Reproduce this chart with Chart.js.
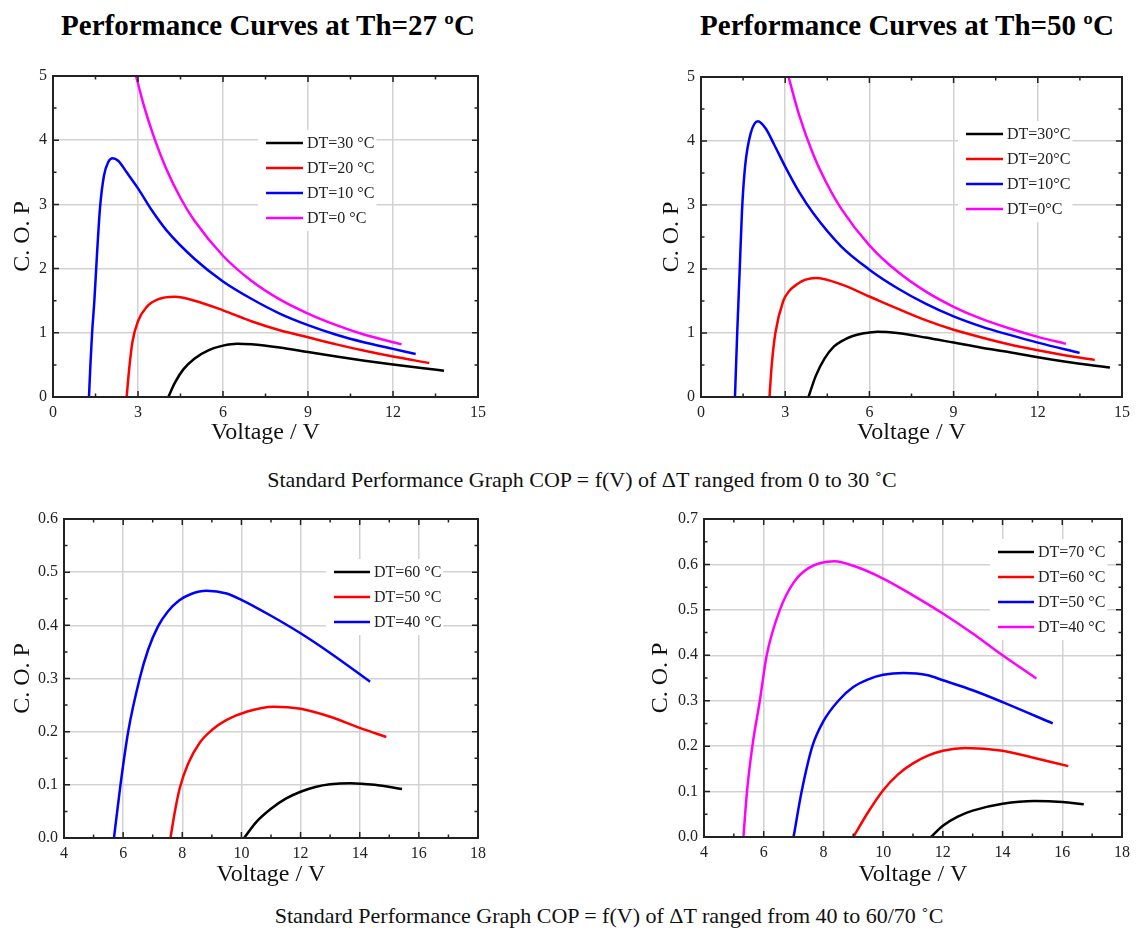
<!DOCTYPE html>
<html>
<head>
<meta charset="utf-8">
<script src="https://cdn.jsdelivr.net/npm/chart.js@4.4.1/dist/chart.umd.min.js"></script>
<style>
  body { margin: 0; background: #fff; width: 1136px; height: 932px; position: relative; overflow: hidden; font-family: "Liberation Serif", serif; }
  canvas { position: absolute; }
  .title { position: absolute; font-weight: bold; font-size: 29px; line-height: 1; white-space: nowrap; transform: translateX(-50%); color: #000; }
  .caption { position: absolute; font-size: 22px; line-height: 1; white-space: nowrap; transform: translateX(-50%); color: #111; }
</style>
</head>
<body>
<div class="title" style="left:268px; top:11px">Performance Curves at Th=27 ºC</div>
<div class="title" style="left:907px; top:11px">Performance Curves at Th=50 ºC</div>
<div class="caption" style="left:582px; top:469px">Standard Performance Graph COP = f(V) of ΔT ranged from 0 to 30 ˚C</div>
<div class="caption" style="left:609px; top:905px">Standard Performance Graph COP = f(V) of ΔT ranged from 40 to 60/70 ˚C</div>

<canvas id="c1" width="500" height="400" style="left:0px; top:50px"></canvas>
<canvas id="c2" width="516" height="400" style="left:620px; top:50px"></canvas>
<canvas id="c3" width="500" height="400" style="left:0px; top:490px"></canvas>
<canvas id="c4" width="516" height="400" style="left:620px; top:490px"></canvas>

<script>
// tick labels
const xTicksTop = [0, 3, 6, 9, 12, 15];
const yTicksTop = [0, 1, 2, 3, 4, 5];
const xTicksBot = [4, 6, 8, 10, 12, 14, 16, 18];
const yTicks3 = [0, 0.1, 0.2, 0.3, 0.4, 0.5, 0.6];
const yTicks4 = [0, 0.1, 0.2, 0.3, 0.4, 0.5, 0.6, 0.7];

// Th = 27 C
const v27_30 = [4.07, 4.3, 4.6, 5, 5.5, 6, 6.5, 7, 8, 9, 10, 11, 12, 13, 13.8];
const cop27_30 = [0, 0.22, 0.43, 0.6, 0.73, 0.8, 0.83, 0.82, 0.77, 0.7, 0.63, 0.565, 0.505, 0.45, 0.41];
const v27_20 = [2.6, 2.68, 2.8, 3.0, 3.3, 3.7, 4.3, 5, 6, 7, 8, 9, 10, 11, 12, 13.28];
const cop27_20 = [0, 0.4, 0.85, 1.18, 1.4, 1.52, 1.56, 1.5, 1.35, 1.18, 1.04, 0.93, 0.82, 0.72, 0.63, 0.53];
const v27_10 = [1.27, 1.32, 1.38, 1.46, 1.55, 1.66, 1.8, 1.95, 2.1, 2.3, 2.6, 3, 3.5, 4, 5, 6, 7, 8, 9, 10, 11, 12, 12.8];
const cop27_10 = [0, 0.5, 1.0, 1.5, 2.2, 2.95, 3.45, 3.66, 3.72, 3.68, 3.5, 3.25, 2.9, 2.6, 2.15, 1.8, 1.53, 1.3, 1.12, 0.97, 0.85, 0.75, 0.67];
const v27_0 = [2.93, 3.2, 3.5, 4, 4.5, 5, 6, 7, 8, 9, 10, 11, 12.3];
const cop27_0 = [5.0, 4.55, 4.13, 3.55, 3.1, 2.74, 2.2, 1.81, 1.52, 1.3, 1.12, 0.97, 0.82];

// Th = 50 C
const v50_30 = [3.83, 4.09, 4.4, 4.74, 5.0, 5.38, 5.8, 6.29, 7, 8, 9, 10, 11, 12, 13, 14.57];
const cop50_30 = [0, 0.33, 0.6, 0.79, 0.87, 0.95, 0.995, 1.02, 1.0, 0.93, 0.85, 0.77, 0.7, 0.62, 0.55, 0.46];
const v50_20 = [2.44, 2.52, 2.65, 2.93, 3.15, 3.45, 3.7, 4.09, 5, 6, 7, 8, 9, 10, 11, 12, 13, 14.03];
const cop50_20 = [0, 0.5, 1.0, 1.5, 1.66, 1.77, 1.83, 1.86, 1.76, 1.57, 1.38, 1.2, 1.05, 0.93, 0.82, 0.73, 0.65, 0.58];
const v50_10 = [1.21, 1.25, 1.29, 1.38, 1.46, 1.57, 1.77, 2.03, 2.3, 2.6, 3, 3.5, 4, 5, 6, 7, 8, 9, 10, 11, 12, 13.49];
const cop50_10 = [0, 0.5, 1.0, 2.0, 2.9, 3.6, 4.12, 4.31, 4.2, 3.95, 3.6, 3.2, 2.87, 2.35, 1.99, 1.7, 1.46, 1.26, 1.1, 0.97, 0.85, 0.69];
const v50_0 = [3.12, 3.5, 4, 4.5, 5, 6, 7, 8, 9, 10, 11, 12, 13];
const cop50_0 = [5.0, 4.4, 3.79, 3.32, 2.94, 2.37, 1.96, 1.65, 1.41, 1.22, 1.07, 0.94, 0.83];

// DT 40..60
const v3_60 = [10.09, 10.5, 11, 11.5, 12, 12.5, 13, 13.68, 14.5, 15.43];
const cop3_60 = [0, 0.03, 0.055, 0.074, 0.087, 0.096, 0.101, 0.103, 0.1, 0.092];
const v3_50 = [7.6, 7.75, 7.92, 8.2, 8.6, 9.0, 9.5, 10.2, 11.08, 12, 13, 14, 14.9];
const cop3_50 = [0, 0.05, 0.095, 0.14, 0.18, 0.203, 0.222, 0.238, 0.247, 0.243, 0.228, 0.207, 0.19];
const v3_40 = [5.69, 5.91, 6.17, 6.56, 6.85, 7.18, 7.5, 7.9, 8.3, 8.82, 9.5, 10, 11, 12, 13, 14.35];
const cop3_40 = [0, 0.1, 0.2, 0.3, 0.355, 0.398, 0.425, 0.447, 0.459, 0.465, 0.46, 0.448, 0.418, 0.385, 0.348, 0.294];

// DT 40..70
const v4_70 = [11.6, 12, 12.5, 13, 14, 15.07, 16, 16.72];
const cop4_70 = [0, 0.025, 0.045, 0.058, 0.073, 0.079, 0.077, 0.072];
const v4_60 = [9.0, 9.5, 10, 10.5, 11, 11.5, 12, 12.76, 14, 15, 16.2];
const cop4_60 = [0, 0.055, 0.103, 0.138, 0.162, 0.179, 0.19, 0.196, 0.19, 0.175, 0.156];
const v4_50 = [7.0, 7.27, 7.63, 8, 8.5, 9, 9.5, 10, 10.68, 11.5, 12, 13, 14, 15.68];
const cop4_50 = [0, 0.1, 0.2, 0.255, 0.3, 0.33, 0.347, 0.357, 0.361, 0.356, 0.345, 0.323, 0.297, 0.25];
const v4_40 = [5.32, 5.44, 5.62, 5.87, 6.1, 6.54, 7, 7.5, 8.37, 9, 10, 11, 12, 13, 14, 15.13];
const cop4_40 = [0, 0.1, 0.2, 0.3, 0.4, 0.5, 0.56, 0.592, 0.607, 0.597, 0.569, 0.532, 0.492, 0.448, 0.4, 0.349];

const BLACK = "#000000", RED = "#ff0000", BLUE = "#0000ff", MAGENTA = "#ff00ff";
const SERIF = "'Liberation Serif', 'Times New Roman', serif";

//white legend box inside the plot, drawn before the curves
const boxLegend = {
  id: "boxLegend",
  beforeDatasetsDraw(chart, args, o) {
    const ctx = chart.ctx;
    const sets = chart.data.datasets;
    ctx.save();
    ctx.font = "16px " + SERIF;
    let w = 0;
    sets.forEach(d => { w = Math.max(w, ctx.measureText(d.label).width); });
    ctx.fillStyle = "#fff";
    ctx.fillRect(o.x - 8, o.y - 13, o.len + 4 + w + 10, o.row * (sets.length - 1) + 26);
    sets.forEach((d, i) => {
      const yy = o.y + i * o.row;
      ctx.strokeStyle = d.borderColor;
      ctx.lineWidth = 2.5;
      ctx.beginPath();
      ctx.moveTo(o.x, yy);
      ctx.lineTo(o.x + o.len, yy);
      ctx.stroke();
      ctx.fillStyle = "#222";
      ctx.textBaseline = "middle";
      ctx.fillText(d.label, o.x + o.len + 4, yy + 1);
    });
    ctx.restore();
  }
};

//box frame with inward ticks on all four sides
const frame = {
  id: "frame",
  afterDatasetsDraw(chart) {
    const { ctx, chartArea: a, scales } = chart;
    const xs = scales.x, ys = scales.y;
    const mid = t => t.slice(1).map((v, i) => (v + t[i]) / 2);
    const xt = xs.ticks.map(t => t.value), yt = ys.ticks.map(t => t.value);
    ctx.save();
    ctx.strokeStyle = "#222";
    ctx.lineWidth = 1.5;
    ctx.beginPath();
    [[xt, 6], [mid(xt), 3.5]].forEach(([vals, len]) => vals.forEach(v => {
      const p = xs.getPixelForValue(v);
      ctx.moveTo(p, a.bottom); ctx.lineTo(p, a.bottom - len);
      ctx.moveTo(p, a.top); ctx.lineTo(p, a.top + len);
    }));
    [[yt, 6], [mid(yt), 3.5]].forEach(([vals, len]) => vals.forEach(v => {
      const p = ys.getPixelForValue(v);
      ctx.moveTo(a.left, p); ctx.lineTo(a.left + len, p);
      ctx.moveTo(a.right, p); ctx.lineTo(a.right - len, p);
    }));
    ctx.stroke();
    ctx.lineWidth = 2;
    ctx.strokeRect(a.left, a.top, a.right - a.left, a.bottom - a.top);
    ctx.restore();
  }
};

function series(label, v, cop, color) {
  return {
    label: label,
    data: v.map((x, i) => ({ x: x, y: cop[i] })),
    showLine: true,
    borderColor: color,
    borderWidth: 2.5,
    pointRadius: 0,
    cubicInterpolationMode: "monotone",
    fill: false
  };
}

function makeChart(id, c) {
  return new Chart(document.getElementById(id), {
    type: "scatter",
    data: { datasets: c.sets },
    options: {
      responsive: false,
      animation: false,
      layout: { padding: { left: 0, top: c.padTop, right: c.padRight, bottom: 0 } },
      plugins: { legend: { display: false }, tooltip: { enabled: false }, boxLegend: c.legend },
      scales: {
        x: {
          type: "linear",
          min: c.xTicks[0],
          max: c.xTicks[c.xTicks.length - 1],
          afterFit: s => { s.height = c.xH; },
          afterBuildTicks: s => { s.ticks = c.xTicks.map(v => ({ value: v })); },
          grid: { color: "#d2d2d2", lineWidth: 1.5, drawTicks: false },
          border: { display: false },
          ticks: { padding: 6, maxRotation: 0, autoSkip: false, color: "#222", font: { family: SERIF, size: 16 }, callback: v => String(v) },
          title: { display: true, text: "Voltage / V", color: "#111", font: { family: SERIF, size: 24 }, padding: { top: 0, bottom: c.xTitlePad } }
        },
        y: {
          type: "linear",
          min: c.yTicks[0],
          max: c.yTicks[c.yTicks.length - 1],
          afterFit: s => { s.width = c.yW; },
          afterBuildTicks: s => { s.ticks = c.yTicks.map(v => ({ value: v })); },
          grid: { color: "#d2d2d2", lineWidth: 1.5, drawTicks: false },
          border: { display: false },
          ticks: { padding: 6, color: "#222", font: { family: SERIF, size: 16 }, callback: v => v.toFixed(c.yDigits) },
          title: { display: true, text: "C. O. P", color: "#111", font: { family: SERIF, size: 24 }, padding: { top: c.yTitlePad, bottom: 0 } }
        }
      }
    },
    plugins: [boxLegend, frame]
  });
}

makeChart("c1", {
  sets: [
    series("DT=30 °C", v27_30, cop27_30, BLACK),
    series("DT=20 °C", v27_20, cop27_20, RED),
    series("DT=10 °C", v27_10, cop27_10, BLUE),
    series("DT=0 °C", v27_0, cop27_0, MAGENTA)
  ],
  xTicks: xTicksTop, yTicks: yTicksTop, yDigits: 0,
  padTop: 26, padRight: 22, yW: 53, xH: 53, xTitlePad: 3, yTitlePad: 8,
  legend: { x: 266, y: 93, row: 25, len: 37 }
});

makeChart("c2", {
  sets: [
    series("DT=30°C", v50_30, cop50_30, BLACK),
    series("DT=20°C", v50_20, cop50_20, RED),
    series("DT=10°C", v50_10, cop50_10, BLUE),
    series("DT=0°C", v50_0, cop50_0, MAGENTA)
  ],
  xTicks: xTicksTop, yTicks: yTicksTop, yDigits: 0,
  padTop: 27, padRight: 9, yW: 81, xH: 53, xTitlePad: 3, yTitlePad: 37,
  legend: { x: 346, y: 84, row: 25, len: 37 }
});

makeChart("c3", {
  sets: [
    series("DT=60 °C", v3_60, cop3_60, BLACK),
    series("DT=50 °C", v3_50, cop3_50, RED),
    series("DT=40 °C", v3_40, cop3_40, BLUE)
  ],
  xTicks: xTicksBot, yTicks: yTicks3, yDigits: 1,
  padTop: 29, padRight: 22, yW: 64, xH: 52, xTitlePad: 1, yTitlePad: 8,
  legend: { x: 334, y: 82, row: 25, len: 36 }
});

makeChart("c4", {
  sets: [
    series("DT=70 °C", v4_70, cop4_70, BLACK),
    series("DT=60 °C", v4_60, cop4_60, RED),
    series("DT=50 °C", v4_50, cop4_50, BLUE),
    series("DT=40 °C", v4_40, cop4_40, MAGENTA)
  ],
  xTicks: xTicksBot, yTicks: yTicks4, yDigits: 1,
  padTop: 29, padRight: 10, yW: 84, xH: 53, xTitlePad: 1, yTitlePad: 26,
  legend: { x: 378, y: 62, row: 25, len: 36 }
});
</script>
</body>
</html>
